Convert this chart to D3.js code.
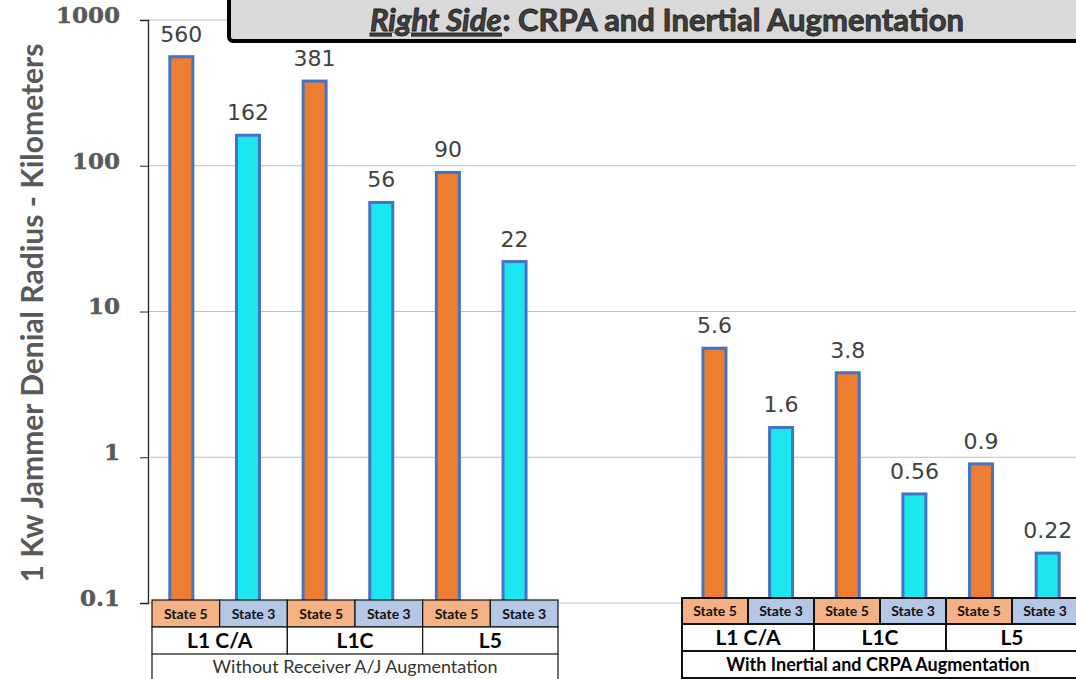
<!DOCTYPE html>
<html>
<head>
<meta charset="utf-8">
<script src="https://cdn.jsdelivr.net/npm/d3@7"></script>
<style>
  body { margin: 0; background: #fff; }
  svg { display: block; }
</style>
</head>
<body>
<svg id="chart" width="1076" height="679"></svg>
<script>
// ---- data ----
var groups = ["Without Receiver A/J Augmentation", "With Inertial and CRPA Augmentation"];
var signals = ["L1 C/A", "L1C", "L5"];
var states = ["State 5", "State 3"];
var valuesWithout = [560, 162, 381, 56, 90, 22];
var valuesWith = [5.6, 1.6, 3.8, 0.56, 0.9, 0.22];
var yTicks = [0.1, 1, 10, 100, 1000];

var svg = d3.select("#chart"),
    width = +svg.attr("width"),
    height = +svg.attr("height");

var orange = "#ED7D31", cyan = "#1CE6F0", edge = "#4472C4";

// build bar list: 6 bars, 2 empty slots, 6 bars
var bars = [];
valuesWithout.forEach(function(v, i) { bars.push({ slot: i, value: v, state: i % 2, group: 0 }); });
valuesWith.forEach(function(v, i) { bars.push({ slot: i + 8, value: v, state: i % 2, group: 1 }); });

var x = d3.scaleBand()
    .domain(d3.range(14))
    .range([148, 1081]);

var y = d3.scaleLog()
    .domain([0.1, 1000])
    .range([603, 20]);

// gridlines
svg.append("g")
  .selectAll("line")
  .data(yTicks)
  .enter().append("line")
    .attr("x1", 148).attr("x2", width)
    .attr("y1", function(d) { return y(d); })
    .attr("y2", function(d) { return y(d); })
    .attr("stroke", "#c0c0c0")
    .attr("stroke-width", 1);

// y axis
var yAxis = svg.append("g")
    .attr("transform", "translate(148,0)")
    .call(d3.axisLeft(y).tickValues(yTicks).tickSize(8).tickFormat(function(d) { return String(d); }));
yAxis.select(".domain").attr("stroke", "#222").attr("stroke-width", 1.3);
yAxis.selectAll(".tick line").attr("stroke", "#222");
yAxis.selectAll(".tick text")
    .attr("x", -28)
    .attr("dy", "0.1em")
    .style("font-family", "'DejaVu Serif'")
    .style("font-weight", "bold")
    .style("font-size", "23px")
    .attr("fill", "#595959")
    .attr("stroke", "#595959")
    .attr("stroke-width", 0.5);

svg.append("text")
    .attr("transform", "translate(43,313) rotate(-90)")
    .attr("text-anchor", "middle")
    .style("font-family", "Lato")
    .style("font-weight", "bold")
    .style("font-size", "30px")
    .attr("fill", "#595959")
    .text("1 Kw Jammer Denial Radius - Kilometers");

// bars
var bw = 23;
svg.append("g")
  .selectAll("rect")
  .data(bars)
  .enter().append("rect")
    .attr("x", function(d) { return x(d.slot) + x.bandwidth() / 2 - bw / 2; })
    .attr("y", function(d) { return y(d.value); })
    .attr("width", bw)
    .attr("height", function(d) { return y(0.1) - y(d.value); })
    .attr("fill", function(d) { return d.state === 0 ? orange : cyan; })
    .attr("stroke", edge)
    .attr("stroke-width", 3);

svg.append("g")
  .selectAll("text")
  .data(bars)
  .enter().append("text")
    .attr("x", function(d) { return x(d.slot) + x.bandwidth() / 2; })
    .attr("y", function(d) { return y(d.value) - 15; })
    .attr("text-anchor", "middle")
    .style("font-family", "'DejaVu Sans'")
    .style("font-size", "22px")
    .attr("fill", "#404040")
    .text(function(d) { return String(d.value); });

// category tables under each group
function drawTable(gi, x0, x1, top, rowH, lastH, strokeW) {
  var cx = d3.scaleBand().domain(d3.range(6)).range([x0, x1]);
  var g = svg.append("g");
  var cw = cx.bandwidth();

  g.selectAll("rect.state")
    .data(d3.range(6))
    .enter().append("rect")
      .attr("x", function(i) { return cx(i); })
      .attr("y", top)
      .attr("width", cw)
      .attr("height", rowH[0])
      .attr("fill", function(i) { return i % 2 === 0 ? "#F4B183" : "#B4C7E7"; })
      .attr("stroke", "#111")
      .attr("stroke-width", strokeW);

  g.selectAll("text.state")
    .data(d3.range(6))
    .enter().append("text")
      .attr("x", function(i) { return cx(i) + cw / 2; })
      .attr("y", top + rowH[0] / 2 + 5)
      .attr("text-anchor", "middle")
      .style("font-family", "Lato")
      .style("font-weight", "bold")
      .style("font-size", "14px")
      .attr("fill", "#111")
      .text(function(i) { return states[i % 2]; });

  var t2 = top + rowH[0];
  g.selectAll("rect.sig")
    .data(signals)
    .enter().append("rect")
      .attr("x", function(d, i) { return cx(i * 2); })
      .attr("y", t2)
      .attr("width", cw * 2)
      .attr("height", rowH[1])
      .attr("fill", "#fff")
      .attr("stroke", "#111")
      .attr("stroke-width", strokeW);

  g.selectAll("text.sig")
    .data(signals)
    .enter().append("text")
      .attr("x", function(d, i) { return cx(i * 2) + cw; })
      .attr("y", t2 + rowH[1] / 2 + 7)
      .attr("text-anchor", "middle")
      .style("font-family", "Lato")
      .style("font-weight", "bold")
      .style("font-size", "21px")
      .attr("fill", "#000")
      .text(function(d) { return d; });

  var t3 = t2 + rowH[1];
  if (gi === 0) {
    g.append("path")
      .attr("d", "M" + x0 + "," + t3 + "V" + (t3 + lastH) + "M" + x1 + "," + t3 + "V" + (t3 + lastH))
      .attr("stroke", "#111")
      .attr("stroke-width", strokeW)
      .attr("fill", "none");
    g.append("text")
      .attr("x", (x0 + x1) / 2)
      .attr("y", t3 + 19)
      .attr("text-anchor", "middle")
      .style("font-family", "Lato")
      .style("font-size", "18px")
      .attr("fill", "#333")
      .text(groups[gi]);
  } else {
    g.append("rect")
      .attr("x", x0).attr("y", t3)
      .attr("width", x1 - x0).attr("height", lastH)
      .attr("fill", "#fff")
      .attr("stroke", "#111")
      .attr("stroke-width", strokeW);
    g.append("text")
      .attr("x", (x0 + x1) / 2 - 2)
      .attr("y", t3 + lastH / 2 + 6)
      .attr("text-anchor", "middle")
      .style("font-family", "Lato")
      .style("font-weight", "bold")
      .style("font-size", "18px")
      .attr("fill", "#000")
      .text(groups[gi]);
  }
}

drawTable(0, 152, 558, 600, [27, 27], 40, 1.2);
drawTable(1, 682, 1078, 598, [26, 27], 27, 2);

// title box
svg.append("rect")
    .attr("x", 229).attr("y", -12)
    .attr("width", 900).attr("height", 53)
    .attr("rx", 4)
    .attr("fill", "#d9d9d9")
    .attr("stroke", "#000")
    .attr("stroke-width", 4);

var title = svg.append("text")
    .attr("x", 667)
    .attr("y", 31)
    .attr("text-anchor", "middle")
    .style("font-family", "Lato")
    .style("font-weight", "bold")
    .style("font-size", "31px")
    .attr("fill", "#404040")
    .attr("stroke", "#1a1a1a")
    .attr("stroke-width", 0.8);
title.append("tspan")
    .style("font-style", "italic")
    .style("text-decoration", "underline")
    .text("Right Side");
title.append("tspan")
    .attr("dx", 1)
    .text(": CRPA and Inertial Augmentation");
</script>
</body>
</html>
